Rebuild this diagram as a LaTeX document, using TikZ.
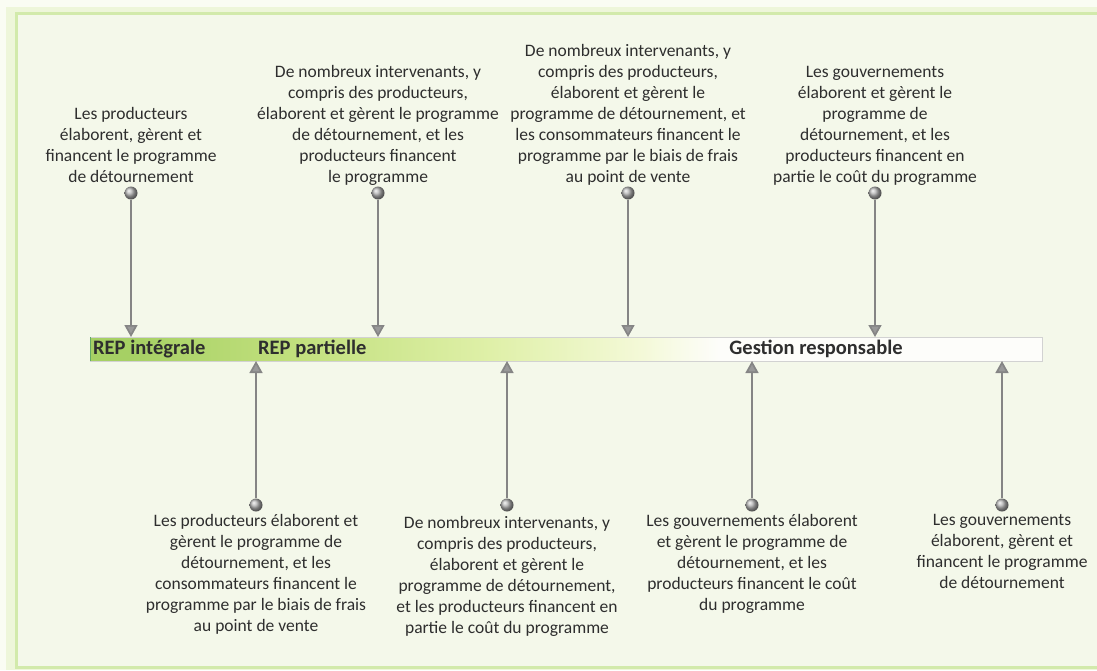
\documentclass[tikz,border=0pt]{standalone}
\usepackage{fontspec}
\setmainfont{Carlito}
\usetikzlibrary{positioning,arrows.meta}

\definecolor{pagebg}{HTML}{FAFCF3}
\definecolor{outerbg}{HTML}{EEF6DA}
\definecolor{panelbg}{HTML}{F4F8EA}
\definecolor{panelline}{HTML}{D2EAAB}
\definecolor{pinline}{HTML}{858585}
\definecolor{txt}{HTML}{2E2E2E}
\definecolor{barA}{HTML}{A6D064}
\definecolor{barB}{HTML}{C2E07E}
\definecolor{barC}{HTML}{DFF0A8}
\definecolor{barD}{HTML}{F4F9D8}
\definecolor{barE}{HTML}{FDFDFA}

\pgfdeclarehorizontalshading{repbar}{100bp}{color(0bp)=(barA); color(27bp)=(barA);
  color(36bp)=(barB); color(46bp)=(barC); color(54bp)=(barD); color(58bp)=(barE);
  color(100bp)=(barE)}

\tikzset{
  pintext/.style={align=center, font=\fontsize{17.5}{21}\selectfont, text=txt, inner sep=0pt},
  barlabel/.style={font=\fontsize{20.5}{24}\selectfont\bfseries, text=txt, inner sep=0pt},
  pinball/.style={circle, inner sep=0pt, minimum size=13pt, ball color=gray!60},
  pinarrow/.style={draw=pinline, line width=1.7pt, -{Triangle[width=13pt,length=12pt,fill=gray!80]}}
}

\begin{document}
\begin{tikzpicture}[x=1pt,y=-1pt]

    % Background and frame
    \useasboundingbox (0,0) rectangle (1097,670);
    \fill[pagebg] (0,0) rectangle (1097,670);
    \fill[outerbg] (6,7) rectangle (1097,670);
    \filldraw[fill=panelbg, draw=panelline, line width=3pt] (16,13.5) rectangle (1110,667);

    % The bar
    \shade[shading=repbar] (90,337) rectangle (1042,361);
    \draw[gray!35, line width=0.6pt] (90,337) rectangle (1042,361);
    \draw[green!45!black!60, line width=1pt] (90,337) -- (90,361);

    \node[barlabel, anchor=west] (full) at (93,349) {REP intégrale};
    \node[barlabel, anchor=west] (partial) at (258,349) {REP partielle};
    \node[barlabel] (steward) at (816,349) {Gestion responsable};

    % Pins above the bar
    \foreach \n/\x in {1/131, 2/378, 3/628, 4/875} {
        \node[pinball] (u\n) at (\x,193) {};
        \coordinate (ua\n) at (\x,337);
        \draw[pinarrow] (u\n) -- (ua\n);
    }

    % Pins below the bar
    \foreach \n/\x in {1/256, 2/507, 3/752, 4/1002} {
        \node[pinball] (l\n) at (\x,505) {};
        \coordinate (la\n) at (\x,361);
        \draw[pinarrow] (l\n) -- (la\n);
    }

    % Texts above
    \node[pintext, above=3pt of u1] (tu1) {Les producteurs\\élaborent, gèrent et\\financent le programme\\de détournement};
    \node[pintext, above=1pt of u2] (tu2) {De nombreux intervenants, y\\compris des producteurs,\\élaborent et gèrent le programme\\de détournement, et les\\producteurs financent\\le programme};
    \node[pintext, above=1pt of u3] (tu3) {De nombreux intervenants, y\\compris des producteurs,\\élaborent et gèrent le\\programme de détournement, et\\les consommateurs financent le\\programme par le biais de frais\\au point de vente};
    \node[pintext, above=1pt of u4] (tu4) {Les gouvernements\\élaborent et gèrent le\\programme de\\détournement, et les\\producteurs financent en\\partie le coût du programme};

    % Texts below
    \node[pintext, below=2pt of l1] (tl1) {Les producteurs élaborent et\\gèrent le programme de\\détournement, et les\\consommateurs financent le\\programme par le biais de frais\\au point de vente};
    \node[pintext, below=4pt of l2] (tl2) {De nombreux intervenants, y\\compris des producteurs,\\élaborent et gèrent le\\programme de détournement,\\et les producteurs financent en\\partie le coût du programme};
    \node[pintext, below=2pt of l3] (tl3) {Les gouvernements élaborent\\et gèrent le programme de\\détournement, et les\\producteurs financent le coût\\du programme};
    \node[pintext, below=2pt of l4] (tl4) {Les gouvernements\\élaborent, gèrent et\\financent le programme\\de détournement};

\end{tikzpicture}
\end{document}
